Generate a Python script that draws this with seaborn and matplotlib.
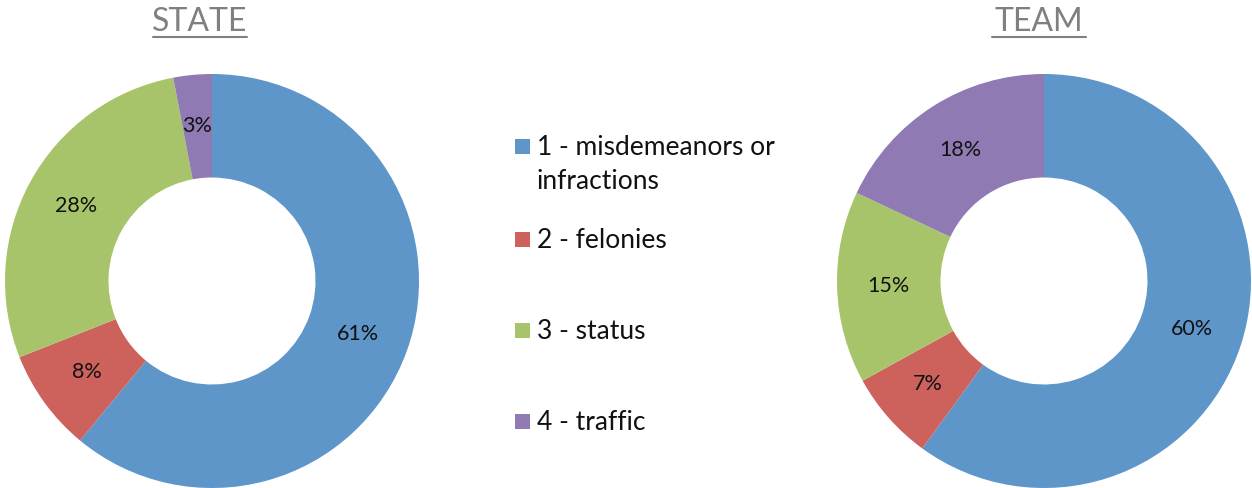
import matplotlib
matplotlib.use('Agg')
import matplotlib.pyplot as plt
import seaborn as sns
from matplotlib.patches import Rectangle
from matplotlib.lines import Line2D

categories = ['1 - misdemeanors or\ninfractions', '2 - felonies', '3 - status', '4 - traffic']
state_pct = [61, 8, 28, 3]
team_pct = [60, 7, 15, 18]
titles = ['STATE', 'TEAM']

sns.set_theme(style='white')
plt.rcParams['font.family'] = ['Lato', 'DejaVu Sans']
colors = ['#5E96CA', '#CD625C', '#A8C46B', '#8F7AB3']

W, H = 1252, 488
fig = plt.figure(figsize=(W / 100, H / 100), dpi=100)

R = 207
centers = [(212, 281), (1044, 281)]
title_x = [200, 1039]
for (cx, cy), tx, vals, title in zip(centers, title_x, [state_pct, team_pct], titles):
    ax = fig.add_axes([(cx - R) / W, (H - cy - R) / H, 2 * R / W, 2 * R / H])
    ax.pie(vals, colors=colors, startangle=90, counterclock=False,
           autopct='%d%%', pctdistance=0.75, radius=1,
           wedgeprops=dict(width=0.5, edgecolor='white', linewidth=0),
           textprops=dict(fontsize=15.5, color='#111111'))
    ax.set_xlim(-1, 1)
    ax.set_ylim(-1, 1)
    ax.set_aspect('equal')
    ax.axis('off')
    # title with underline
    fig.text(tx / W, 1 - 22 / H, title, ha='center', va='center', fontsize=23, color='#808080')
    fig.add_artist(Line2D([(tx - 47) / W, (tx + 47) / W], [1 - 37 / H, 1 - 37 / H],
                          color='#808080', linewidth=1.5))

# legend: square + label, first line of each label level with its square
legend_y = [147, 240, 331, 422]
for lab, c, y in zip(categories, colors, legend_y):
    fig.add_artist(Rectangle((515 / W, 1 - (y + 7) / H), 15 / W, 15 / H,
                             facecolor=c, edgecolor='none', transform=fig.transFigure))
    fig.text(537 / W, 1 - (y - 12) / H, lab, ha='left', va='top', fontsize=19,
             color='#111111', linespacing=1.45)

fig.savefig('out.png', dpi=100)
